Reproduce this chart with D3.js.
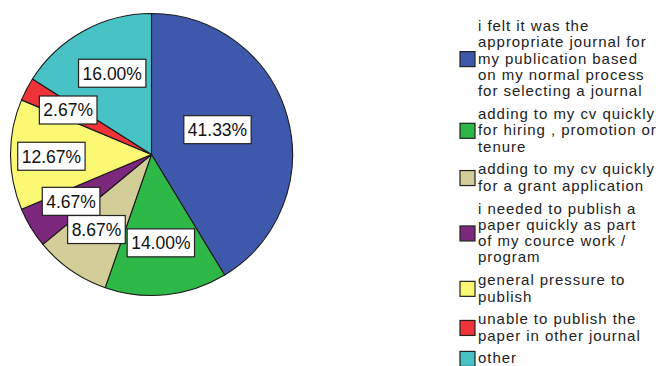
<!DOCTYPE html>
<html>
<head>
<meta charset="utf-8">
<script src="https://cdn.jsdelivr.net/npm/d3@7"></script>
<style>
  html, body { margin: 0; padding: 0; background: #fff; }
  svg { display: block; }
</style>
</head>
<body>
<svg id="chart" width="660" height="366"></svg>
<script>
// ---- data ----
const categories = [
  "i felt it was the appropriate journal for my publication based on my normal process for selecting a journal",
  "adding to my cv quickly for hiring , promotion or tenure",
  "adding to my cv quickly for a grant application",
  "i needed to publish a paper quickly as part of my cource work / program",
  "general pressure to publish",
  "unable to publish the paper in other journal",
  "other"
];
const legendLines = [
  ["i felt it was the", "appropriate journal for", "my publication based", "on my normal process", "for selecting a journal"],
  ["adding to my cv quickly", "for hiring , promotion or", "tenure"],
  ["adding to my cv quickly", "for a grant application"],
  ["i needed to publish a", "paper quickly as part", "of my cource work /", "program"],
  ["general pressure to", "publish"],
  ["unable to publish the", "paper in other journal"],
  ["other"]
];
const percents = [41.33, 14.00, 8.67, 4.67, 12.67, 2.67, 16.00];
const percentLabels = ["41.33%", "14.00%", "8.67%", "4.67%", "12.67%", "2.67%", "16.00%"];

// ---- styling / layout ----
const colors = ["#3E58AC", "#2EB848", "#D3CE97", "#7C287D", "#FBF873", "#EF3338", "#48C2C5"];
const labelRadiusFrac = [0.50, 0.63, 0.66, 0.66, 0.71, 0.67, 0.64];
const labelAngleShiftDeg = [-5, 0, 1.5, 1, -1, 0.5, 3];
const cx = 151.5, cy = 154.5, R = 141;

const svg = d3.select("#chart");
const g = svg.append("g").attr("transform", `translate(${cx},${cy})`);

const pie = d3.pie().value(d => d).sort(null);
const arcs = pie(percents);
const arc = d3.arc().innerRadius(0).outerRadius(R);

g.selectAll("path.slice")
  .data(arcs)
  .enter().append("path")
  .attr("class", "slice")
  .attr("d", arc)
  .attr("fill", (d, i) => colors[i])
  .attr("stroke", "#1a1a1a")
  .attr("stroke-width", 1.1)
  .attr("stroke-linejoin", "round");

// labels
const fontLabel = "17.5px 'Liberation Sans', Arial, sans-serif";
arcs.forEach((d, i) => {
  const a = (d.startAngle + d.endAngle) / 2 + labelAngleShiftDeg[i] * Math.PI / 180;
  const r = R * labelRadiusFrac[i];
  const x = Math.sin(a) * r, y = -Math.cos(a) * r;
  const lg = g.append("g").attr("transform", `translate(${x},${y})`);
  const t = lg.append("text")
    .attr("text-anchor", "middle")
    .attr("dy", "0.36em")
    .style("font", fontLabel)
    .attr("fill", "#111")
    .text(percentLabels[i]);
  const bb = t.node().getBBox();
  const w = bb.width + 8, h = 28;
  lg.insert("rect", "text")
    .attr("x", -w / 2).attr("y", -h / 2)
    .attr("width", w).attr("height", h)
    .attr("fill", "#fff")
    .attr("stroke", "#222")
    .attr("stroke-width", 1.2);
});

// legend
const lineH = 16.3, groupGap = 6.5, firstBase = 31;
const textX = 478, swX = 460, sw = 15;
let base = firstBase;
const leg = svg.append("g");
legendLines.forEach((lines, i) => {
  const first = base;
  const last = base + (lines.length - 1) * lineH;
  const item = leg.append("g");
  lines.forEach((ln, j) => {
    item.append("text")
      .attr("x", textX)
      .attr("y", first + j * lineH)
      .style("font", "15px 'Liberation Sans', Arial, sans-serif")
      .style("letter-spacing", "0.95px")
      .attr("fill", "#222")
      .text(ln);
  });
  const mid = (first + last) / 2 - 4.5;
  item.append("rect")
    .attr("x", swX).attr("y", mid - sw / 2)
    .attr("width", sw).attr("height", sw)
    .attr("fill", colors[i])
    .attr("stroke", "#222")
    .attr("stroke-width", 1.2);
  base = last + lineH + groupGap;
});
</script>
</body>
</html>
